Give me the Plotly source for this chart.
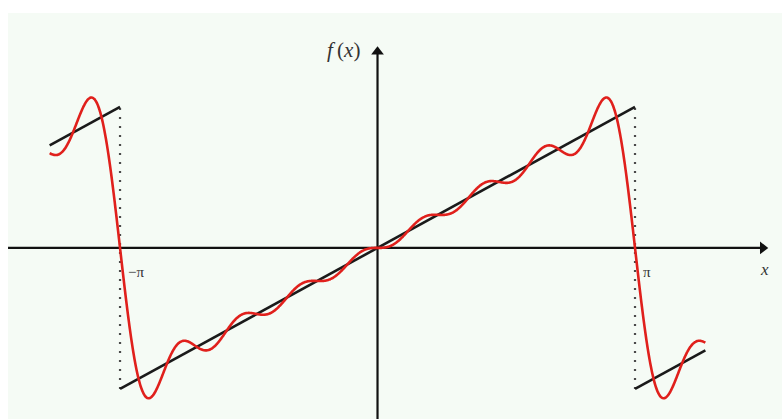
import numpy as np
import plotly.graph_objects as go

# Sine coefficients b_n of the partial Fourier sum (n = 1..8) for f(x) = x on (-pi, pi)
series_coeffs = [2.0, -1.0, 0.6667, -0.5, 0.4, -0.3333, 0.2857, -0.25]

# Domain of the drawn curves
x_min, x_max = -4.0, 4.0

# Pieces of the periodic sawtooth: (x start, x end, y start, y end)
saw_x0 = [-4.0, -np.pi, np.pi]
saw_x1 = [-np.pi, np.pi, 4.0]
saw_y0 = [-4.0 + 2 * np.pi, -np.pi, -np.pi]
saw_y1 = [np.pi, np.pi, 4.0 - 2 * np.pi]

# Jump locations marked with dotted guides
jumps = [-np.pi, np.pi]

# Tick labels on the x axis
tick_pos = [-np.pi, np.pi]
tick_text = ["\u2212\u03c0", "\u03c0"]

W, H = 782, 419
XR = [-4.606, 4.935]
YR = [-3.81, 5.52]

xs = np.linspace(x_min, x_max, 1200)
partial = np.zeros_like(xs)
for n, b in enumerate(series_coeffs, start=1):
    partial += b * np.sin(n * xs)

fig = go.Figure()

# dotted guides at the jumps
for xj in jumps:
    fig.add_trace(go.Scatter(
        x=[xj, xj], y=[-np.pi, np.pi], mode="lines",
        line=dict(color="#4a4a4a", width=2.2, dash="2px,7px"),
        hoverinfo="skip", showlegend=False))

# coordinate axes
fig.add_trace(go.Scatter(x=[-4.508, 4.70], y=[0, 0], mode="lines",
                         line=dict(color="#111111", width=2.2),
                         hoverinfo="skip", showlegend=False))
fig.add_trace(go.Scatter(x=[0, 0], y=[YR[0], 4.35], mode="lines",
                         line=dict(color="#111111", width=2.2),
                         hoverinfo="skip", showlegend=False))
fig.add_trace(go.Scatter(x=[4.70], y=[0], mode="markers",
                         marker=dict(symbol="triangle-right", size=11, color="#111111"),
                         hoverinfo="skip", showlegend=False))
fig.add_trace(go.Scatter(x=[0], y=[4.37], mode="markers",
                         marker=dict(symbol="triangle-up", size=11, color="#111111"),
                         hoverinfo="skip", showlegend=False))

# sawtooth segments
for a, b, c, d in zip(saw_x0, saw_x1, saw_y0, saw_y1):
    fig.add_trace(go.Scatter(x=[a, b], y=[c, d], mode="lines",
                             line=dict(color="#1a1a1a", width=2.6),
                             hoverinfo="skip", showlegend=False))

# partial Fourier sum
fig.add_trace(go.Scatter(x=xs, y=partial, mode="lines",
                         line=dict(color="#e0201c", width=2.6, shape="spline"),
                         hoverinfo="skip", showlegend=False))

annotations = []
for p, t in zip(tick_pos, tick_text):
    annotations.append(dict(x=p, y=0, xref="x", yref="y", text=t, showarrow=False,
                            xanchor="left", yanchor="top", xshift=6, yshift=-14,
                            font=dict(family="Liberation Serif", size=15, color="#333333")))
annotations.append(dict(x=4.70, y=0, xref="x", yref="y", text="<i>x</i>", showarrow=False,
                        xanchor="center", yanchor="top", xshift=2, yshift=-10,
                        font=dict(family="Liberation Serif", size=17, color="#333333")))
annotations.append(dict(x=-0.409, y=4.41, xref="x", yref="y",
                        text="<i>f</i>\u2009(<i>x</i>)",
                        showarrow=False, xanchor="center", yanchor="middle",
                        font=dict(family="Liberation Serif", size=21, color="#333333")))

fig.update_layout(
    width=W, height=H,
    margin=dict(l=0, r=0, t=0, b=0),
    paper_bgcolor="white", plot_bgcolor="rgba(0,0,0,0)",
    xaxis=dict(range=XR, visible=False, fixedrange=True),
    yaxis=dict(range=YR, visible=False, fixedrange=True),
    shapes=[dict(type="rect", xref="paper", yref="paper",
                 x0=8 / W, x1=1.0, y0=0.0, y1=1 - 13 / H,
                 fillcolor="#f5fbf5", line=dict(width=0), layer="below")],
    annotations=annotations,
    showlegend=False,
)

fig.write_html("out.html")
